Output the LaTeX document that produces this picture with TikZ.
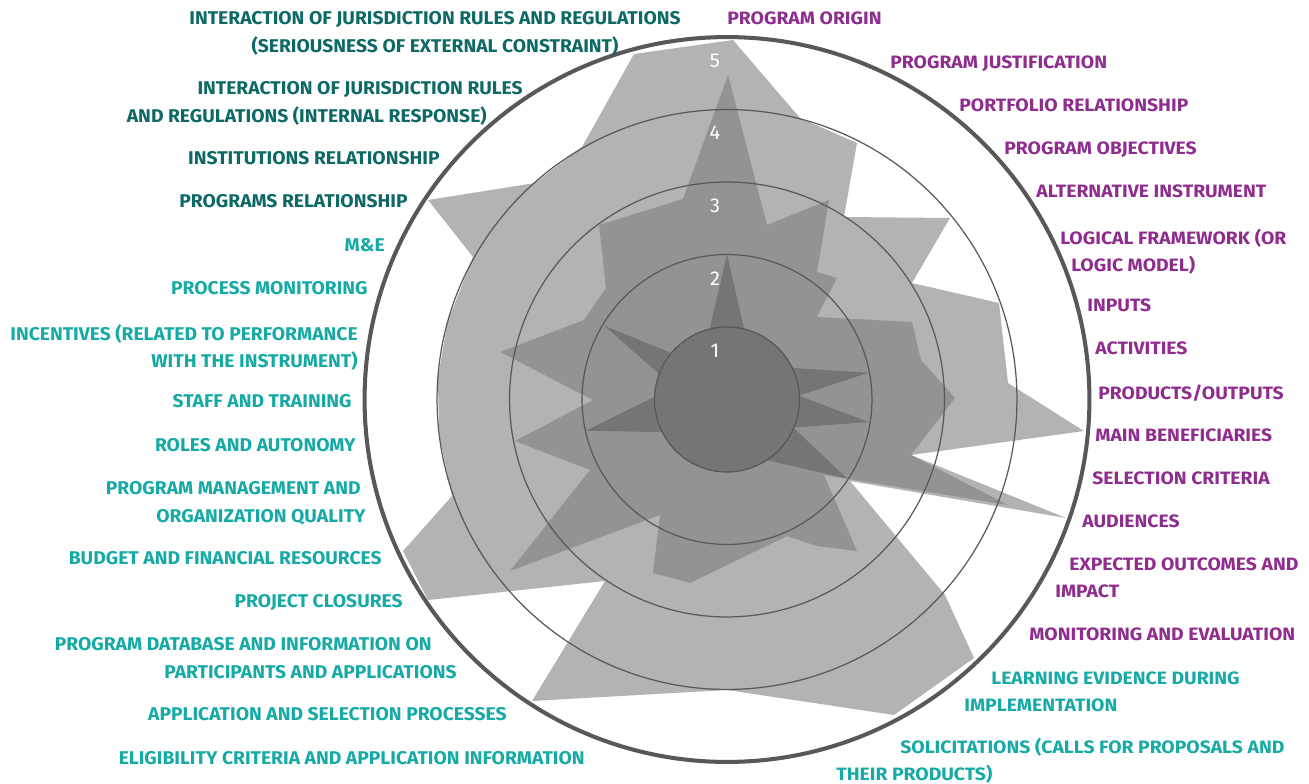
\documentclass[tikz,border=0pt]{standalone}
\usepackage{fontspec}
\setmainfont{Fira Sans}
\newfontfamily\rfont{Fira Sans}[FakeStretch=1.08]
\newfontfamily\lfont{Fira Sans}[FakeStretch=1.045]

\definecolor{purplelab}{HTML}{8E2D8E}
\definecolor{teallab}{HTML}{16AAA7}
\definecolor{darkteal}{HTML}{0D6965}
\definecolor{shadeA}{HTML}{B3B3B3}
\definecolor{shadeB}{HTML}{939393}
\definecolor{shadeC}{HTML}{767475}
\definecolor{ringgray}{HTML}{585858}

\begin{document}
\begin{tikzpicture}[x=0.02cm, y=-0.02cm,
    every node/.style={inner sep=0pt},
    rlab/.style={font=\rfont\fontsize{10.2}{15.4}\selectfont\bfseries, text=#1, align=left, anchor=north west},
    llab/.style={font=\lfont\fontsize{10.5}{15.4}\selectfont\bfseries, text=#1, align=right, anchor=north east},
    numlab/.style={font=\fontsize{11.4}{12}\selectfont, text=white},
    ring/.style={draw=ringgray, line width=0.7pt}]
    \useasboundingbox (0,0) rectangle (1309,784);
    \coordinate (ctr) at (727,399.5);

    % Outer score area
    \fill[shadeA] (634,54) -- (733,40) -- (800,118) -- (857,143) -- (844,217) -- (950,218)
        -- (912,283) -- (999,303) -- (1008,383) -- (1084,431) -- (911,455) -- (1066,518)
        -- (850,481) -- (945,595) -- (974,658) -- (894,715) -- (727,690) -- (532,701)
        -- (605,581) -- (428,600) -- (403,551) -- (452,496) -- (439.5,437) -- (437.7,379)
        -- (447.6,322) -- (473,257) -- (428,200) -- (535,183) -- (582,147) -- cycle;

    % Middle score area
    \fill[shadeB] (728,75) -- (767,225) -- (829,200) -- (817,272) -- (837,278) -- (817,317)
        -- (912,322) -- (921,360) -- (955,398) -- (911,455) -- (1008,505) -- (824,475)
        -- (857,551) -- (817,546) -- (787,536) -- (690,583) -- (653,573) -- (660,515)
        -- (510,571) -- (590,470) -- (515,441) -- (593,400) -- (500,352) -- (584,320)
        -- (606,288) -- (599,225) -- (683,199) -- cycle;

    % Inner score area
    \fill[shadeC] (727,254.5) -- (744.4,329.6) -- (791.7,367.9) -- (868.3,372.7) -- (798.9,395.7)
        -- (868.3,422) -- (793.3,427.6) -- (847.3,478.7) -- (766.2,459.9) -- (662.8,432.2)
        -- (586,430.7) -- (655.1,396.4) -- (659.5,374.4) -- (604.3,325.7) -- (671.8,353.2)
        -- (709.6,329.6) -- cycle;

    % Score rings
    \filldraw[ring, fill=shadeC] (ctr) circle[radius=1.45cm];
    \foreach \k in {2,3,4}
        \draw[ring] (ctr) circle[radius=\k*1.45cm];
    \draw[ringgray, line width=2.3pt] (ctr) circle[radius=7.25cm];

    % Scale numbers
    \foreach \k/\yy in {1/351,2/279,3/206,4/133,5/61}
        \node[numlab] (n\k) at (715,\yy) {\k};

    % Labels on the right
    \node[rlab=purplelab] (origin) at (727,11.5) {PROGRAM ORIGIN};
    \node[rlab=purplelab] (justif) at (890,55.5) {PROGRAM JUSTIFICATION};
    \node[rlab=purplelab] (portfolio) at (959,98.5) {PORTFOLIO RELATIONSHIP};
    \node[rlab=purplelab] (objectives) at (1004,141.5) {PROGRAM OBJECTIVES};
    \node[rlab=purplelab] (altinstr) at (1036,184.5) {ALTERNATIVE INSTRUMENT};
    \node[rlab=purplelab] (logframe) at (1060,228.5) {LOGICAL FRAMEWORK (OR\\\hspace*{0.22cm}LOGIC MODEL)};
    \node[rlab=purplelab] (inputs) at (1087,298.5) {INPUTS};
    \node[rlab=purplelab] (activities) at (1095,341.5) {ACTIVITIES};
    \node[rlab=purplelab] (outputs) at (1098,384.5) {PRODUCTS/OUTPUTS};
    \node[rlab=purplelab] (benef) at (1095,428.5) {MAIN BENEFICIARIES};
    \node[rlab=purplelab] (selcrit) at (1092,471.5) {SELECTION CRITERIA};
    \node[rlab=purplelab] (audiences) at (1082,514.5) {AUDIENCES};
    \node[rlab=purplelab] (outcomes) at (1055,557.5) {\hspace*{0.28cm}EXPECTED OUTCOMES AND\\IMPACT};
    \node[rlab=purplelab] (monev) at (1029,627.5) {MONITORING AND EVALUATION};
    \node[rlab=teallab] (learning) at (964,671.5) {\hspace*{0.54cm}LEARNING EVIDENCE DURING\\IMPLEMENTATION};
    \node[rlab=teallab] (solicit) at (836,738) {\hspace*{1.28cm}SOLICITATIONS (CALLS FOR PROPOSALS AND\\THEIR PRODUCTS)};

    % Labels on the left
    \node[llab=darkteal, align=center, anchor=north] (extconst) at (435,11.5) {INTERACTION OF JURISDICTION RULES AND REGULATIONS\\(SERIOUSNESS OF EXTERNAL CONSTRAINT)};
    \node[llab=darkteal] (intresp) at (523,81.5) {INTERACTION OF JURISDICTION RULES\\AND REGULATIONS (INTERNAL RESPONSE)\hspace*{0.72cm}};
    \node[llab=darkteal] (instrel) at (440,151.5) {INSTITUTIONS RELATIONSHIP};
    \node[llab=darkteal] (progrel) at (408,194.5) {PROGRAMS RELATIONSHIP};
    \node[llab=teallab] (mande) at (385,238.5) {M\&E};
    \node[llab=teallab] (procmon) at (368,281.5) {PROCESS MONITORING};
    \node[llab=teallab] (incent) at (358,324.5) {INCENTIVES (RELATED TO PERFORMANCE\\WITH THE INSTRUMENT)};
    \node[llab=teallab] (staff) at (352,394.5) {STAFF AND TRAINING};
    \node[llab=teallab] (roles) at (356,438.5) {ROLES AND AUTONOMY};
    \node[llab=teallab] (mgmt) at (366,481.5) {PROGRAM MANAGEMENT AND\hspace*{0.1cm}\\ORGANIZATION QUALITY};
    \node[llab=teallab] (budget) at (382,551.5) {BUDGET AND FINANCIAL RESOURCES};
    \node[llab=teallab] (closures) at (403,594.5) {PROJECT CLOSURES};
    \node[llab=teallab] (database) at (457,637.5) {PROGRAM DATABASE AND INFORMATION ON\hspace*{0.5cm}\\PARTICIPANTS AND APPLICATIONS};
    \node[llab=teallab] (appsel) at (507,707.5) {APPLICATION AND SELECTION PROCESSES};
    \node[llab=teallab] (elig) at (585,751.5) {ELIGIBILITY CRITERIA AND APPLICATION INFORMATION};
\end{tikzpicture}
\end{document}
